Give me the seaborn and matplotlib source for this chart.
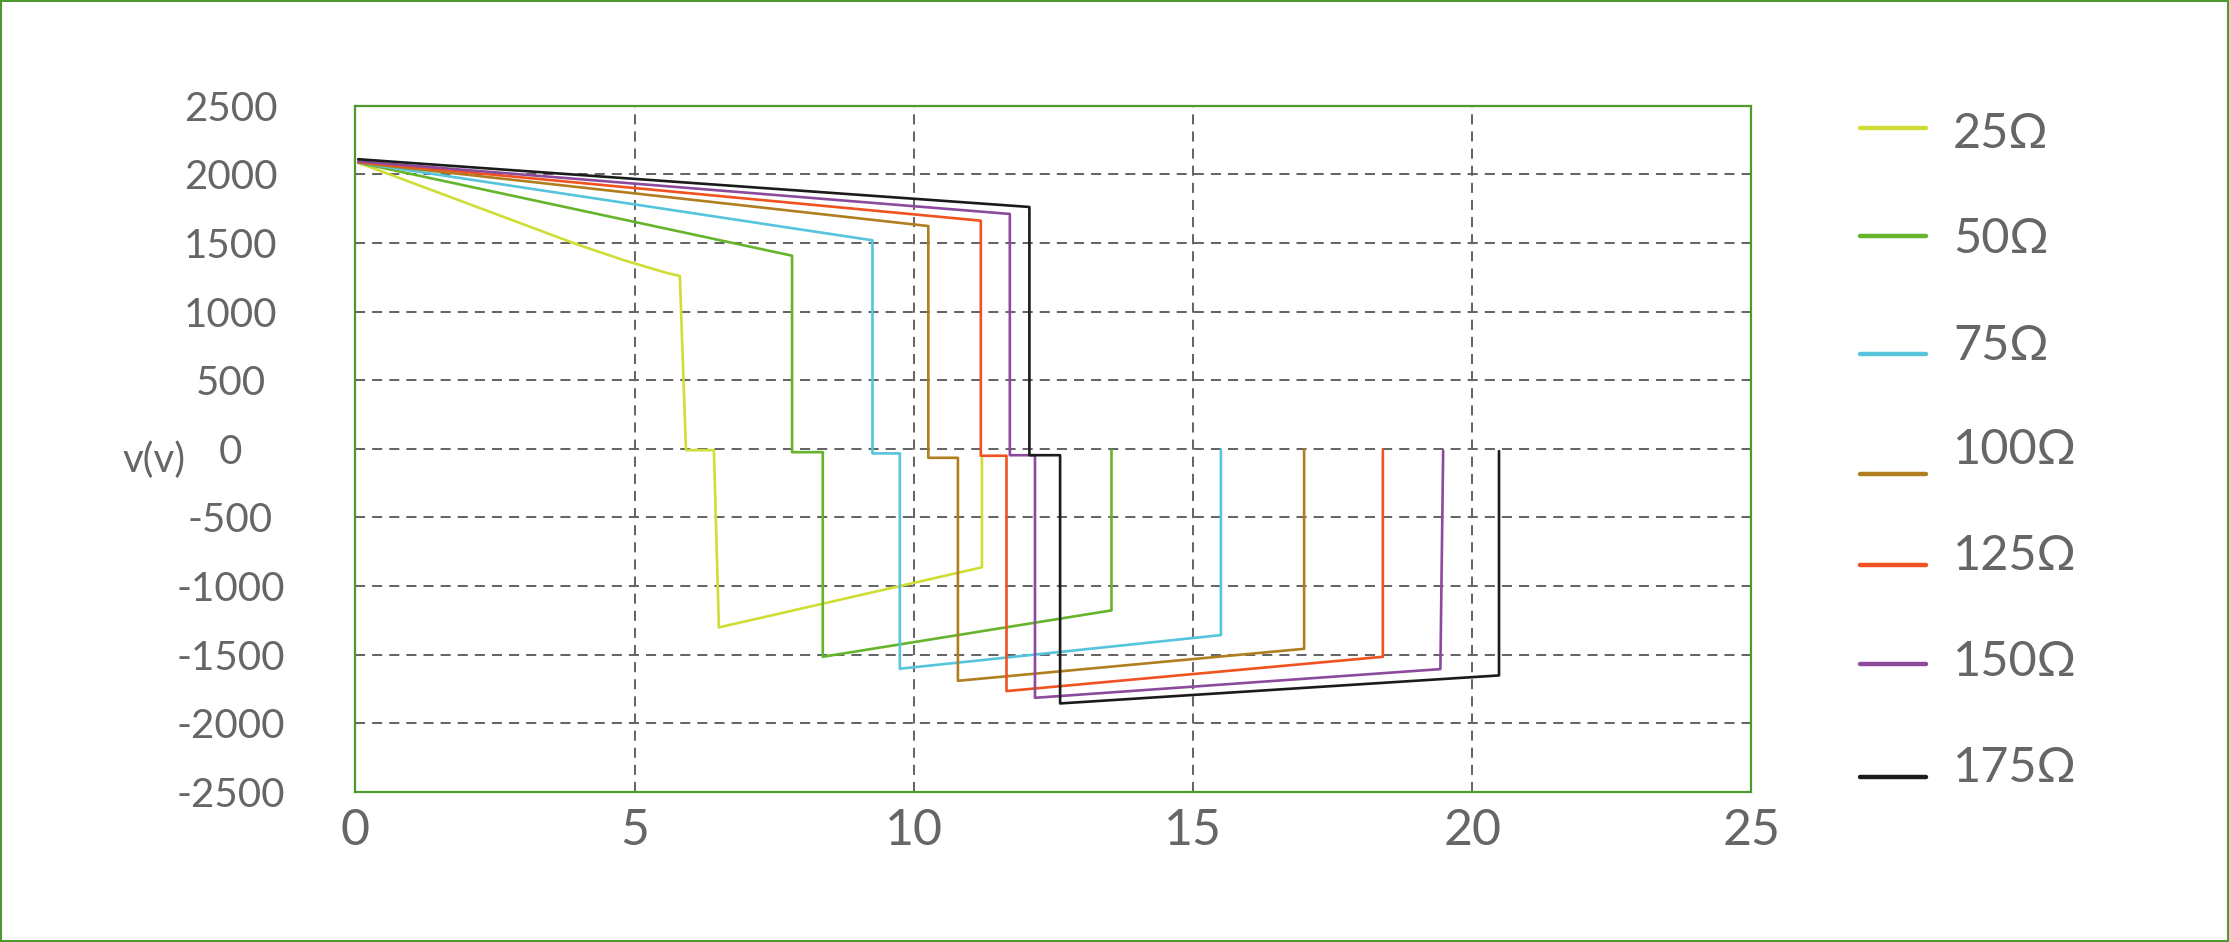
import pandas as pd
import matplotlib
matplotlib.use("Agg")
import matplotlib.pyplot as plt
import seaborn as sns
from matplotlib.lines import Line2D
from matplotlib.patches import Rectangle

# series (time on x, voltage on y)
labels = ["25Ω", "50Ω", "75Ω", "100Ω", "125Ω", "150Ω", "175Ω"]
colors = ["#cfdd35", "#66b42c", "#55c4dc", "#b17e1f", "#f05220", "#8c4a9d", "#1b1b1b"]

x_25 = [0.05, 4.0, 4.8, 5.56, 5.81, 5.92, 6.42, 6.51, 11.22, 11.22]
y_25 = [2085, 1485, 1375, 1283, 1259, -10, -10, -1302, -864, -50]
x_50 = [0.05, 7.82, 7.82, 8.37, 8.37, 13.54, 13.54]
y_50 = [2085, 1407, -25, -25, -1516, -1178, -10]
x_75 = [0.05, 9.26, 9.26, 9.75, 9.75, 15.50, 15.50]
y_75 = [2085, 1519, -34, -34, -1603, -1358, -5]
x_100 = [0.05, 10.26, 10.26, 10.79, 10.79, 16.99, 16.99]
y_100 = [2085, 1623, -66, -66, -1691, -1458, -5]
x_125 = [0.05, 11.20, 11.20, 11.66, 11.66, 18.40, 18.40]
y_125 = [2090, 1662, -51, -51, -1766, -1516, -5]
x_150 = [0.05, 11.72, 11.72, 12.17, 12.17, 19.43, 19.48]
y_150 = [2095, 1711, -47, -47, -1815, -1606, -14]
x_175 = [0.05, 12.07, 12.07, 12.62, 12.62, 20.48, 20.48]
y_175 = [2110, 1762, -47, -47, -1856, -1652, -17]

xs = [x_25, x_50, x_75, x_100, x_125, x_150, x_175]
ys = [y_25, y_50, y_75, y_100, y_125, y_150, y_175]

x_ticks = [0, 5, 10, 15, 20, 25]
y_ticks = [2500, 2000, 1500, 1000, 500, 0, -500, -1000, -1500, -2000, -2500]

rows = []
for lab, xv, yv in zip(labels, xs, ys):
    for a, b in zip(xv, yv):
        rows.append({"t": a, "v": b, "R": lab})
df = pd.DataFrame(rows)

sns.set_theme(style="white")
plt.rcParams["font.family"] = ["Lato", "DejaVu Sans"]

W, H = 2229, 942
fig = plt.figure(figsize=(W / 100, H / 100), dpi=100)
ax = fig.add_axes([355.4 / W, 1 - 791.8 / H, 1396 / W, 686.1 / H])

sns.lineplot(data=df, x="t", y="v", hue="R", hue_order=labels, palette=colors,
             sort=False, estimator=None, units="R", linewidth=1.9, legend=False, ax=ax)

ax.set_xlim(0, 25)
ax.set_ylim(-2500, 2500)
ax.set_xticks(x_ticks)
ax.set_yticks(y_ticks)
ax.set_yticklabels([str(v) for v in y_ticks])

grid_kw = dict(color="#666666", linewidth=1.45, linestyle=(0, (5, 3.5)))
for gx in x_ticks[1:-1]:
    ax.axvline(gx, zorder=0, **grid_kw)
for gy in y_ticks[1:-1]:
    ax.axhline(gy, zorder=0, **grid_kw)

for s in ax.spines.values():
    s.set_color("#4e9a2f")
    s.set_linewidth(1.6)

ax.tick_params(axis="both", length=0)
ax.tick_params(axis="y", pad=90, labelsize=29, labelcolor="#666666")
ax.tick_params(axis="x", pad=12, labelsize=36, labelcolor="#666666")
for lbl in ax.get_yticklabels():
    lbl.set_horizontalalignment("center")

ax.set_xlabel("")
ax.set_ylabel("v(v)", rotation=0, fontsize=29, color="#666666", va="center", ha="center")
ax.yaxis.set_label_coords((154 - 355.4) / 1396, (791.8 - 460) / 686.1)

# legend on the right, placed by hand
leg_line_y = [127.6, 236, 353.5, 474.3, 565.2, 664.4, 777.3]
leg_text_y = [133.6, 239, 346, 450.4, 556.5, 662.5, 767.7]
for lab, col, ly, ty in zip(labels, colors, leg_line_y, leg_text_y):
    fig.add_artist(Line2D([1860 / W, 1926 / W], [1 - ly / H, 1 - ly / H],
                          color=col, linewidth=3.2, transform=fig.transFigure))
    fig.text(1953 / W, 1 - ty / H, lab, fontsize=35, color="#666666",
             va="center", ha="left")

fig.add_artist(Rectangle((0.0005, 0.001), 0.999, 0.998, transform=fig.transFigure,
                         fill=False, edgecolor="#4e9a2f", linewidth=1.5))

fig.savefig("out.png", dpi=100, facecolor="white")
